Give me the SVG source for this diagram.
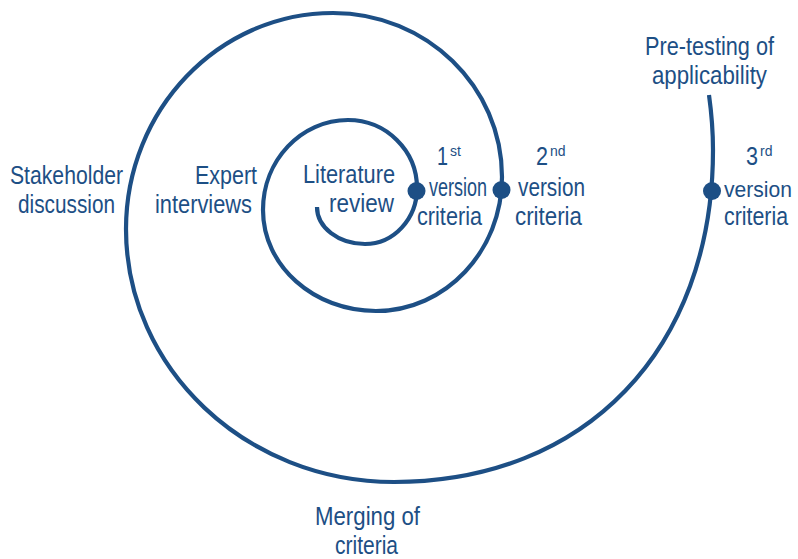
<svg xmlns="http://www.w3.org/2000/svg" width="798" height="559" viewBox="0 0 798 559">
<style>
.lbl{font-family:"Liberation Sans","DejaVu Sans",Arial,sans-serif;font-size:25px;fill:#1d4f85}
.sup{font-family:"Liberation Sans","DejaVu Sans",Arial,sans-serif;font-size:14px;fill:#1d4f85}
.spiral{fill:none;stroke:#1d4f85;stroke-width:4.2}
.dot{fill:#1d4f85}
</style>
<rect width="798" height="559" fill="#ffffff"/>
<g id="connectors">
<path class="spiral" d="M317 207 C317 227.4 338.5 244 365 244 C393.7 244 417 218.9 417 188 C417 150.5 386.1 120 348 120 C301.1 120 263 160.3 263 210 C263 265.8 313.6 311 376 311 C445.6 311 502 251 502 177 C502 86.5 426.3 13 333 13 C218.7 13 126 109.8 126 229 C126 368.7 246.1 482 394 482 C585.4 482 713 349.2 713 150 C713 131 711.5 113 709 95"/>
</g>
<g id="literature-review">
<text class="lbl" x="303" y="183" textLength="92" lengthAdjust="spacingAndGlyphs">Literature</text>
<text class="lbl" x="329" y="212" textLength="65" lengthAdjust="spacingAndGlyphs">review</text>
</g>
<g id="v1">
<circle class="dot" cx="416.5" cy="191" r="9"/>
<text class="lbl" x="437" y="165" textLength="11" lengthAdjust="spacingAndGlyphs">1</text>
<text class="sup" x="450" y="156">st</text>
<text class="lbl" x="429" y="196" textLength="58" lengthAdjust="spacingAndGlyphs">version</text>
<text class="lbl" x="417" y="225" textLength="65" lengthAdjust="spacingAndGlyphs">criteria</text>
</g>
<g id="expert-interviews">
<text class="lbl" x="195" y="184" textLength="62" lengthAdjust="spacingAndGlyphs">Expert</text>
<text class="lbl" x="155" y="213" textLength="97" lengthAdjust="spacingAndGlyphs">interviews</text>
</g>
<g id="v2">
<circle class="dot" cx="501.5" cy="190" r="9"/>
<text class="lbl" x="536" y="165" textLength="12" lengthAdjust="spacingAndGlyphs">2</text>
<text class="sup" x="550" y="156">nd</text>
<text class="lbl" x="518" y="196" textLength="67" lengthAdjust="spacingAndGlyphs">version</text>
<text class="lbl" x="515" y="225" textLength="67" lengthAdjust="spacingAndGlyphs">criteria</text>
</g>
<g id="stakeholder-discussion">
<text class="lbl" x="10" y="184" textLength="113" lengthAdjust="spacingAndGlyphs">Stakeholder</text>
<text class="lbl" x="18" y="213" textLength="97" lengthAdjust="spacingAndGlyphs">discussion</text>
</g>
<g id="merging">
<text class="lbl" x="315" y="525" textLength="105" lengthAdjust="spacingAndGlyphs">Merging of</text>
<text class="lbl" x="335" y="554" textLength="63" lengthAdjust="spacingAndGlyphs">criteria</text>
</g>
<g id="v3">
<circle class="dot" cx="712" cy="191" r="9"/>
<text class="lbl" x="746" y="165" textLength="12" lengthAdjust="spacingAndGlyphs">3</text>
<text class="sup" x="760" y="156">rd</text>
<text class="lbl" x="724" y="197" style="font-size:22.5px" textLength="68" lengthAdjust="spacingAndGlyphs">version</text>
<text class="lbl" x="724" y="225" textLength="64" lengthAdjust="spacingAndGlyphs">criteria</text>
</g>
<g id="pretesting">
<text class="lbl" x="645" y="55" textLength="129" lengthAdjust="spacingAndGlyphs">Pre-testing of</text>
<text class="lbl" x="652" y="84" textLength="115" lengthAdjust="spacingAndGlyphs">applicability</text>
</g>
</svg>
